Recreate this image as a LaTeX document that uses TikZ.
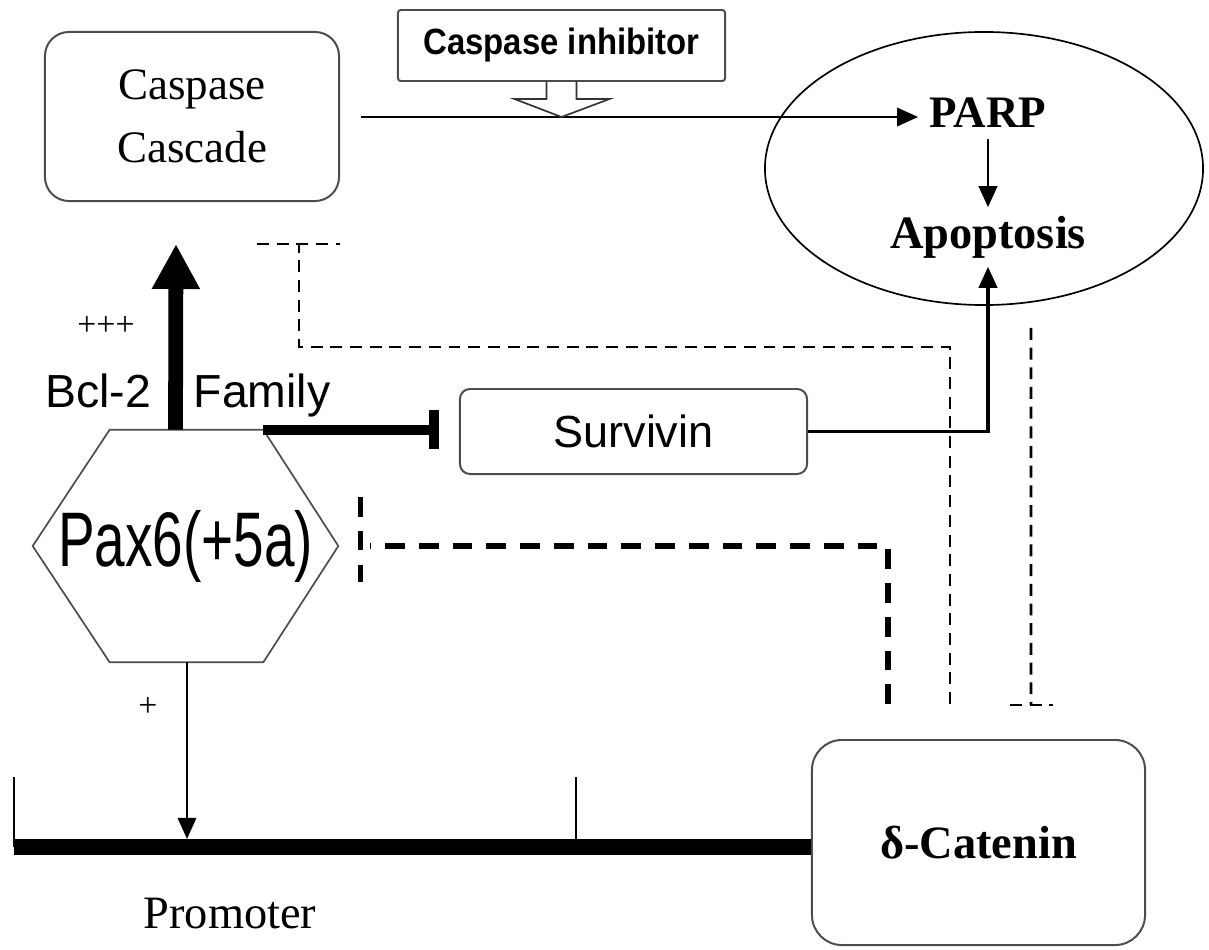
\documentclass[tikz,border=0pt]{standalone}
\usepackage{fontspec}
\setmainfont{Liberation Serif}
\newfontfamily\sansfont{Liberation Sans}
\usepackage{graphicx}
\usetikzlibrary{shapes,arrows.meta,positioning,calc}

\begin{document}
\begin{tikzpicture}[
    x=0.025cm, y=-0.025cm,
    >={Triangle[length=15pt,width=13pt]},
    box/.style = {draw=black!70, line width=1.4pt, align=center},
    link/.style = {->, line width=1.8pt},
    inhthin/.style = {line width=2pt, dash pattern=on 8.5pt off 5.5pt},
    inhthick/.style = {line width=3.6pt, dash pattern=on 14pt off 10pt},
    lbl/.style = {font=\sansfont\fontsize{33}{33}\selectfont, inner sep=0pt}
  ]
  \useasboundingbox (0,0) rectangle (1209,949);

  % top row
  \node[box, rounded corners=0.6cm, minimum width=7.35cm, minimum height=4.225cm,
        font=\fontsize{32}{45}\selectfont] (casc) at (192,116.5) {Caspase\\Cascade};
  \node[box, rounded corners=2pt, minimum width=8.175cm, minimum height=1.775cm,
        font=\sansfont\bfseries\fontsize{26}{26}\selectfont] (inh) at (561.5,45.5)
    {\scalebox{0.9}[1]{Caspase inhibitor}};
  \node[draw, ellipse, line width=1.2pt, minimum width=10.95cm, minimum height=6.825cm] (cell) at (984,168.5) {};
  \node[font=\bfseries\fontsize{32}{32}\selectfont, inner sep=8pt] (parp) at (988,113) {PARP};
  \node[font=\bfseries\fontsize{33}{33}\selectfont, inner sep=6pt] (apo) at (988,237) {Apoptosis};

  \draw[link, shorten <=0.525cm] (casc.east |- 0,117) -- (parp.west |- 0,117);
  \draw[link, line width=2pt] (parp.south) -- (apo.north);
  \draw[line width=1.2pt, draw=black!80] ($(inh.south)+(-15,0)$) -- ++(0,17) -- ++(-32,0)
    -- ++(47,18) -- ++(48,-18) -- ++(-33,0) -- ++(0,-17);

  % Pax6 and its targets
  \node[minimum width=7.625cm, minimum height=5.8cm, inner sep=0pt] (pax) at (185.5,546)
    {\sansfont\fontsize{55}{55}\selectfont\scalebox{0.71}[1]{Pax6(+5a)}};
  \draw[line width=1.2pt, draw=black!70] (pax.west) -- ($(pax.north west)+(77,0)$)
    -- ($(pax.north east)+(-75,0)$) coordinate (hextr) -- (pax.east)
    -- ($(pax.south east)+(-75,0)$) -- ($(pax.south west)+(77,0)$) -- cycle;
  \draw[line width=10.5pt, -{Triangle[length=32pt,width=32pt]}] ($(pax.north)+(-10,0)$) -- ($(casc.south)+(-16,42)$);

  \node[font=\fontsize{24}{24}\selectfont, inner sep=0pt] (plus3) at (106,326) {+++};
  \node[lbl, anchor=base] (bcl) at (98,407) {Bcl-2};
  \node[lbl, anchor=base] (fam) at (262,407) {Family};

  \node[box, rounded corners=0.25cm, minimum width=8.675cm, minimum height=2.125cm,
        font=\sansfont\fontsize{32}{32}\selectfont] (surv) at (633.5,431.5) {Survivin};
  \draw[line width=7pt, -{Bar[width=28pt]}, shorten >=0.5cm] (hextr) -- (hextr -| surv.west);
  \draw[link, line width=2.2pt] (surv.east) -| (apo.south);

  % promoter and delta-catenin
  \node[box, rounded corners=0.75cm, minimum width=8.325cm, minimum height=5.125cm,
        font=\bfseries\fontsize{33}{33}\selectfont] (cat) at (978.5,842.5) {δ-Catenin};
  \coordinate (pstart) at (14,847);
  \coordinate (pmid) at (576,847);
  \draw[line width=11.5pt] (pstart) -- (pstart -| cat.west);
  \draw[line width=1.2pt] (pstart) -- ++(0,-70);
  \draw[line width=1.2pt] (pmid) -- ++(0,-70);
  \draw[link] ($(pax.south)+(1.5,0)$) -- ($(pax.south |- pstart)+(1.5,-8)$);
  \node[font=\fontsize{24}{24}\selectfont, inner sep=0pt] (plus1) at (148,707) {+};
  \node[font=\fontsize{33}{33}\selectfont, anchor=base] (prom) at (230,928) {Promoter};

  % dashed inhibitions
  \coordinate (tcasc) at ($(casc.south)+(107,42)$);
  \draw[inhthin] ($(cat.north)+(-28.5,-35)$) -- ++(0,-357) -| (tcasc);
  \draw[inhthin] ($(tcasc)+(-42,0)$) -- ($(tcasc)+(41,0)$);

  \draw[inhthin] ($(cell.south)+(47,22)$) -- ($(cat.north)+(52.5,-34)$) coordinate (tcat);
  \draw[inhthin] ($(tcat)+(-21,0)$) -- ($(tcat)+(22,0)$);

  \coordinate (tpax) at ($(pax.east)+(22,0)$);
  \draw[inhthick] ($(cat.north)+(-90.5,-35)$) |- ($(tpax)+(10,0)$);
  \draw[inhthick] ($(tpax)+(0,-49)$) -- ($(tpax)+(0,36)$);
\end{tikzpicture}
\end{document}
